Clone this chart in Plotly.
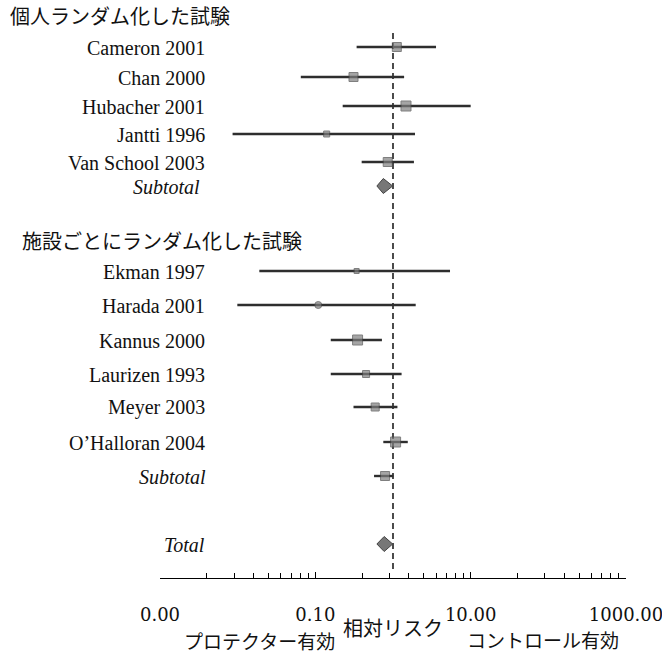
import plotly.graph_objects as go

# ---- data: relative risk with 95% CI ----
group1_names = ["Cameron 2001", "Chan 2000", "Hubacher 2001", "Jantti 1996", "Van School 2003"]
group1_rr = [1.12, 0.31, 1.47, 0.14, 0.855]
group1_lo = [0.34, 0.065, 0.225, 0.0086, 0.395]
group1_hi = [3.58, 1.39, 10.0, 1.92, 1.86]
group1_size = [9, 9, 10, 6, 9]

group2_names = ["Ekman 1997", "Harada 2001", "Kannus 2000", "Laurizen 1993",
                "Meyer 2003", "O\u2019Halloran 2004"]
group2_rr = [0.34, 0.109, 0.35, 0.45, 0.59, 1.08]
group2_lo = [0.019, 0.0099, 0.158, 0.158, 0.31, 0.75]
group2_hi = [5.42, 1.96, 0.72, 1.29, 1.14, 1.55]
group2_size = [5, 7, 10, 7, 8, 10]
group2_symbol = ["square", "circle", "square", "square", "square", "square"]

subtotal1 = dict(rr=0.75, lo=0.62, hi=0.99)
subtotal2 = dict(rr=0.79, lo=0.57, hi=1.01)
total = dict(rr=0.77, lo=0.62, hi=0.99)

tick_vals = [0.001, 0.1, 10, 1000]
tick_text = ["0.00", "0.10", "10.00", "1000.00"]

# ---- layout: vertical row positions (y axis runs top-down in pixel-like units) ----
group1_y = [47, 77, 106, 134, 162]
subtotal1_y = 186
group2_y = [271, 305, 340, 374, 407, 442]
subtotal2_y = 476
total_y = 544
header1_y, header2_y = 16, 240

W, H = 662, 656
L, R, T, B = 160, 36, 0, 78
PW = W - L - R
YMAX = H - B


def px(xpix):
    return (xpix - L) / PW


def py(ypix):
    return (YMAX - ypix) / (YMAX - T)


line_col = "#2e2e2e"
box_col = "#7f7f7f"
edge_col = "#4a4a4a"

fig = go.Figure()

# reference line at RR = 1
fig.add_trace(go.Scatter(x=[1, 1], y=[33, 573], mode="lines",
                         line=dict(color="black", width=1.4, dash="6px,4px"),
                         hoverinfo="skip", showlegend=False))

# confidence interval whiskers
cx, cy = [], []
for lo, hi, y in zip(group1_lo + group2_lo + [subtotal2["lo"]],
                     group1_hi + group2_hi + [subtotal2["hi"]],
                     group1_y + group2_y + [subtotal2_y]):
    cx += [lo, hi, None]
    cy += [y, y, None]
fig.add_trace(go.Scatter(x=cx, y=cy, mode="lines",
                         line=dict(color=line_col, width=2.4),
                         hoverinfo="skip", showlegend=False))

# point estimates
fig.add_trace(go.Scatter(
    x=group1_rr + group2_rr + [subtotal2["rr"]],
    y=group1_y + group2_y + [subtotal2_y],
    mode="markers",
    marker=dict(symbol=["square"] * len(group1_rr) + group2_symbol + ["square"],
                size=group1_size + group2_size + [9],
                color=box_col, line=dict(color=edge_col, width=1)),
    showlegend=False))

# pooled diamonds
for d, y in [(subtotal1, subtotal1_y), (total, total_y)]:
    h = 7.5
    fig.add_trace(go.Scatter(
        x=[d["lo"], d["rr"], d["hi"], d["rr"], d["lo"]],
        y=[y, y - h, y, y + h, y],
        mode="lines", fill="toself", fillcolor="#777777",
        line=dict(color="#444444", width=1),
        hoverinfo="skip", showlegend=False))

serif = "Liberation Serif"
cjk = "Noto Sans CJK JP"
ann = []


def text_at(text, xpix, ypix, anchor, family, size):
    ann.append(dict(x=px(xpix), xref="paper", y=py(ypix), yref="paper",
                    text=text, xanchor=anchor, yanchor="middle", showarrow=False,
                    font=dict(family=family, size=size, color="#111")))


def label(text, y, xpix=207, italic=False):
    text_at(f"<i>{text}</i>" if italic else text, xpix, y + 1, "right", serif, 20)


for n, y in zip(group1_names, group1_y):
    label(n, y)
label("Subtotal", subtotal1_y, 202, italic=True)
for n, y in zip(group2_names, group2_y):
    label(n, y)
label("Subtotal", subtotal2_y, 208, italic=True)
label("Total", total_y, 207, italic=True)

text_at("個人ランダム化した試験", 8, header1_y, "left", cjk, 20)
text_at("施設ごとにランダム化した試験", 20, header2_y, "left", cjk, 20)
text_at("相対リスク", 393, 627, "center", cjk, 20)
text_at("プロテクター有効", 259, 640, "center", cjk, 19)
text_at("コントロール有効", 543, 639, "center", cjk, 19)

# minor ticks: k^2 steps inside each labelled interval
minor_vals = [b * k * k for b in tick_vals[:-1] for k in range(2, 10)]

fig.update_layout(
    width=W, height=H,
    margin=dict(l=L, r=R, t=T, b=B),
    paper_bgcolor="white", plot_bgcolor="white",
    annotations=ann,
    xaxis=dict(type="log", range=[-3, 3], showgrid=False, zeroline=False,
               showline=True, linecolor="black", linewidth=1.3,
               ticks="inside", ticklen=6, tickwidth=1.2, tickcolor="black",
               tickmode="array", tickvals=tick_vals, ticktext=tick_text,
               tickfont=dict(family="DejaVu Serif", size=18, color="#111"),
               ticklabelstandoff=20, ticklabeloverflow="allow",
               minor=dict(tickmode="array", tickvals=minor_vals, ticks="inside",
                          ticklen=5, tickwidth=1.2, tickcolor="black", showgrid=False),
               fixedrange=True),
    yaxis=dict(range=[YMAX, 0], visible=False, fixedrange=True),
)

fig.write_html("out.html")
